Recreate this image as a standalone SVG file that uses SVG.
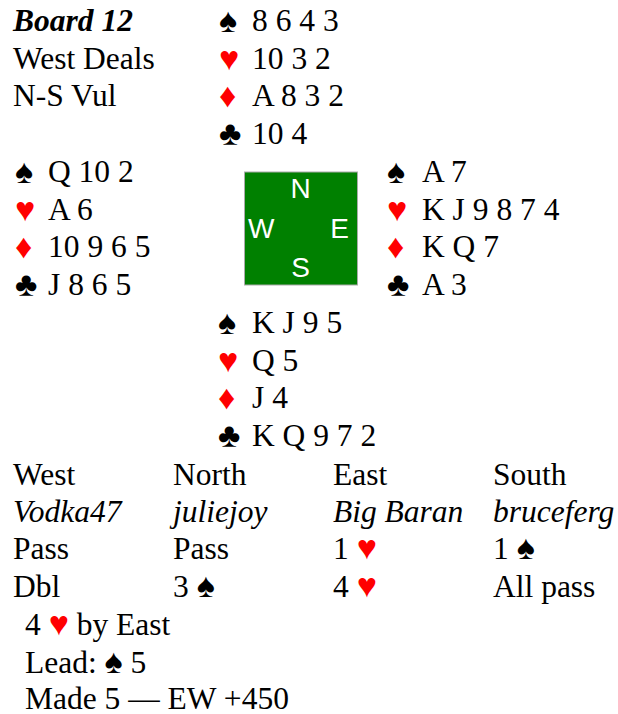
<svg xmlns="http://www.w3.org/2000/svg" width="618" height="714" viewBox="0 0 618 714">
<style>
text{font-family:"Liberation Serif","Times New Roman",serif;font-size:31.5px;fill:#000}
.b{font-weight:bold;font-style:italic}
.i{font-style:italic}
.s{font-size:34px}
.r{fill:#ff0000}
.k{fill:#000}
.c{font-family:"Liberation Sans",Arial,sans-serif;font-size:28px;fill:#fff}
</style>
<rect width="618" height="714" fill="#fff"/>
<g id="info">
<text x="13" y="31" class="b">Board 12</text>
<text x="13" y="69">West Deals</text>
<text x="13" y="106">N-S Vul</text>
</g>
<g id="north">
<text x="219" y="32" class="s k">♠</text><text x="252" y="31">8 6 4 3</text>
<text x="219" y="70" class="s r">♥</text><text x="252" y="69">10 3 2</text>
<text x="219" y="107" class="s r">♦</text><text x="252" y="106">A 8 3 2</text>
<text x="219" y="145" class="s k">♣</text><text x="252" y="144">10 4</text>
</g>
<g id="west">
<text x="15" y="183" class="s k">♠</text><text x="48" y="182">Q 10 2</text>
<text x="15" y="221" class="s r">♥</text><text x="48" y="220">A 6</text>
<text x="15" y="258" class="s r">♦</text><text x="48" y="257">10 9 6 5</text>
<text x="15" y="296" class="s k">♣</text><text x="48" y="295">J 8 6 5</text>
</g>
<g id="compass">
<rect x="244.5" y="172" width="113" height="113" fill="#008000" stroke="#aaaaaa" stroke-width="1"/>
<text x="300.5" y="198" class="c" text-anchor="middle">N</text>
<text x="248" y="238" class="c">W</text>
<text x="349" y="238" class="c" text-anchor="end">E</text>
<text x="300.5" y="277" class="c" text-anchor="middle">S</text>
</g>
<g id="east">
<text x="387" y="183" class="s k">♠</text><text x="422" y="182">A 7</text>
<text x="387" y="221" class="s r">♥</text><text x="422" y="220">K J 9 8 7 4</text>
<text x="387" y="258" class="s r">♦</text><text x="422" y="257">K Q 7</text>
<text x="387" y="296" class="s k">♣</text><text x="422" y="295">A 3</text>
</g>
<g id="south">
<text x="218" y="334" class="s k">♠</text><text x="252" y="333">K J 9 5</text>
<text x="218" y="372" class="s r">♥</text><text x="252" y="371">Q 5</text>
<text x="218" y="409" class="s r">♦</text><text x="252" y="408">J 4</text>
<text x="218" y="447" class="s k">♣</text><text x="252" y="446">K Q 9 7 2</text>
</g>
<g id="auction">
<text x="13" y="485">West</text>
<text x="173" y="485">North</text>
<text x="333" y="485">East</text>
<text x="493" y="485">South</text>
<text x="13" y="522" class="i">Vodka47</text>
<text x="173" y="522" class="i">juliejoy</text>
<text x="333" y="522" class="i">Big Baran</text>
<text x="493" y="522" class="i">bruceferg</text>
<text x="13" y="559">Pass</text>
<text x="173" y="559">Pass</text>
<text x="333" y="559">1 <tspan class="s r">♥</tspan></text>
<text x="493" y="559">1 <tspan class="s">♠</tspan></text>
<text x="13" y="597">Dbl</text>
<text x="173" y="597">3 <tspan class="s">♠</tspan></text>
<text x="333" y="597">4 <tspan class="s r">♥</tspan></text>
<text x="493" y="597">All pass</text>
</g>
<g id="result">
<text x="25" y="635">4 <tspan class="s r">♥</tspan> by East</text>
<text x="25" y="673">Lead: <tspan class="s">♠</tspan> 5</text>
<text x="25" y="709">Made 5 — EW +450</text>
</g>
</svg>
